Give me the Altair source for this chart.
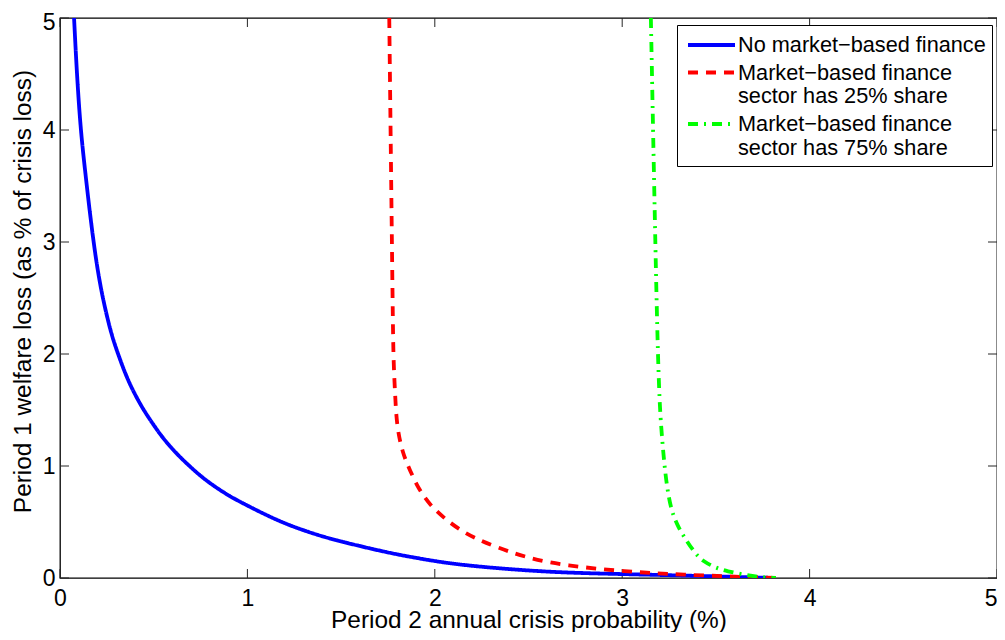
import altair as alt
import pandas as pd

# ---- data ----
series_names = [
    "No market\u2212based finance",
    "Market\u2212based finance\n\u00a0sector has 25% share",
    "Market\u2212based finance\n\u00a0sector has 75% share",
]

blue_x = [0.075, 0.09, 0.11, 0.135, 0.16, 0.187, 0.21, 0.231, 0.26, 0.285, 0.31,
          0.338, 0.37, 0.409, 0.45, 0.498, 0.54, 0.587, 0.64, 0.694, 0.75, 0.818,
          0.9, 0.978, 1.156, 1.298, 1.441, 1.6, 1.78, 2.0, 2.13, 2.31, 2.63, 3.0,
          3.38, 3.82]
blue_y = [5.0, 4.5, 4.0, 3.62, 3.25, 2.90, 2.66, 2.48, 2.27, 2.12, 2.0,
          1.87, 1.74, 1.61, 1.49, 1.37, 1.27, 1.175, 1.08, 0.995, 0.91, 0.825,
          0.735, 0.665, 0.515, 0.425, 0.35, 0.285, 0.215, 0.15, 0.12, 0.09, 0.05, 0.035,
          0.02, 0.0]

red_x = [1.757, 1.775, 1.779, 1.788, 1.797, 1.829, 1.868, 1.912, 1.974, 2.063, 2.152,
         2.241, 2.33, 2.49, 2.70, 3.0, 3.29, 3.82]
red_y = [5.0, 2.44, 1.95, 1.65, 1.35, 1.11, 0.96, 0.80, 0.65, 0.515, 0.41,
         0.336, 0.276, 0.18, 0.11, 0.06, 0.03, 0.0]

green_x = [3.153, 3.183, 3.195, 3.203, 3.215, 3.226, 3.24, 3.262, 3.30, 3.344, 3.39,
           3.43, 3.50, 3.56, 3.65, 3.72, 3.82]
green_y = [5.0, 2.44, 1.76, 1.46, 1.2, 1.0, 0.8, 0.6, 0.45, 0.33, 0.22,
           0.15, 0.09, 0.06, 0.03, 0.01, 0.0]

tick_values = [0, 1, 2, 3, 4, 5]

# ---- build table ----
rows = []
for name, xs_, ys_ in zip(series_names, [blue_x, red_x, green_x], [blue_y, red_y, green_y]):
    for i, (xv, yv) in enumerate(zip(xs_, ys_)):
        rows.append({"series": name, "x": xv, "y": yv, "order": i})
df = pd.DataFrame(rows)

xticks_df = pd.DataFrame({"x": tick_values})
yticks_df = pd.DataFrame({"y": tick_values})

W, H = 937, 560
FONT = "Liberation Sans"
TL = 9  # inward tick length


def build(shift_top_label, line_height):
    y_extra = {}
    if shift_top_label:
        y_extra["labelOffset"] = alt.condition("datum.value == 5", alt.value(4), alt.value(0))
    x_axis = alt.Axis(
        values=tick_values, format="d", grid=False, domain=False, ticks=False, tickSize=0,
        labelFont=FONT, labelFontSize=23, labelColor="black", labelPadding=27,
        labelBaseline="alphabetic", labelFlush=False,
        labelAlign=alt.condition("datum.value == 5", alt.value("right"), alt.value("center")),
        title="Period 2 annual crisis probability (%)",
        titleFont=FONT, titleFontSize=24.4, titleFontWeight="normal", titleColor="black",
        titleBaseline="alphabetic", titleY=49,
    )
    y_axis = alt.Axis(
        values=tick_values, format="d", grid=False, domain=False, ticks=False, tickSize=0,
        labelFont=FONT, labelFontSize=23, labelColor="black", labelPadding=5,
        labelBaseline="middle", labelFlush=False,
        title="Period 1 welfare loss (as % of crisis loss)",
        titleFont=FONT, titleFontSize=24.4, titleFontWeight="normal", titleColor="black",
        titleBaseline="alphabetic", titleX=-30, titleY=273, titleAngle=-90,
        **y_extra,
    )

    xs = alt.Scale(domain=[0, 5], nice=False, zero=False)
    ys = alt.Scale(domain=[0, 5], nice=False, zero=False)

    X = alt.X("x:Q", scale=xs, axis=x_axis)
    Y = alt.Y("y:Q", scale=ys, axis=y_axis)

    leg_kw = dict(
        title=None, orient="none", legendX=617, legendY=7,
        labelExpr="split(datum.label, '\\n')",
        labelFont=FONT, labelFontSize=21.7, labelColor="black", labelLimit=0,
        labelOffset=12.5, labelBaseline="middle",
        symbolType="M-2,0H2", symbolSize=552, symbolStrokeWidth=3.8, symbolOffset=14.5,
        strokeColor="black", fillColor="white", padding=6, rowPadding=1.5,
    )
    if line_height:
        leg_kw["labelLineHeight"] = 26
    legend = alt.Legend(**leg_kw)

    lines = alt.Chart(df).mark_line(strokeWidth=3.8, clip=True, interpolate="basis").encode(
        x=X,
        y=Y,
        order="order:Q",
        color=alt.Color("series:N", scale=alt.Scale(domain=series_names,
                                                    range=["#0000FF", "#FF0000", "#00FF00"]),
                        legend=legend),
        strokeDash=alt.StrokeDash("series:N", scale=alt.Scale(domain=series_names,
                                                              range=[[1, 0], [10, 8], [10, 6, 2, 6]]),
                                  legend=legend),
    )

    tick_style = dict(color="#262626", strokeWidth=1)
    bottom_ticks = alt.Chart(xticks_df).mark_rule(**tick_style).encode(
        x=X, y=alt.value(H), y2=alt.value(H - TL))
    top_ticks = alt.Chart(xticks_df).mark_rule(**tick_style).encode(
        x=X, y=alt.value(0), y2=alt.value(TL))
    left_ticks = alt.Chart(yticks_df).mark_rule(**tick_style).encode(
        y=Y, x=alt.value(0), x2=alt.value(TL))
    right_ticks = alt.Chart(yticks_df).mark_rule(**tick_style).encode(
        y=Y, x=alt.value(W), x2=alt.value(W - TL))

    c = alt.layer(bottom_ticks, top_ticks, left_ticks, right_ticks, lines).properties(
        width=W, height=H,
        autosize=alt.AutoSizeParams(type="none"),
        padding={"left": 52, "top": 10, "right": 0, "bottom": 54},
        background="white",
    ).configure_view(stroke="black", strokeWidth=1.3)
    c.to_dict()
    return c


chart = None
for opts in [(True, True), (True, False), (False, True), (False, False)]:
    try:
        chart = build(*opts)
        break
    except Exception:
        continue

chart.save("out.html", embed_options={"renderer": "svg", "actions": False})
